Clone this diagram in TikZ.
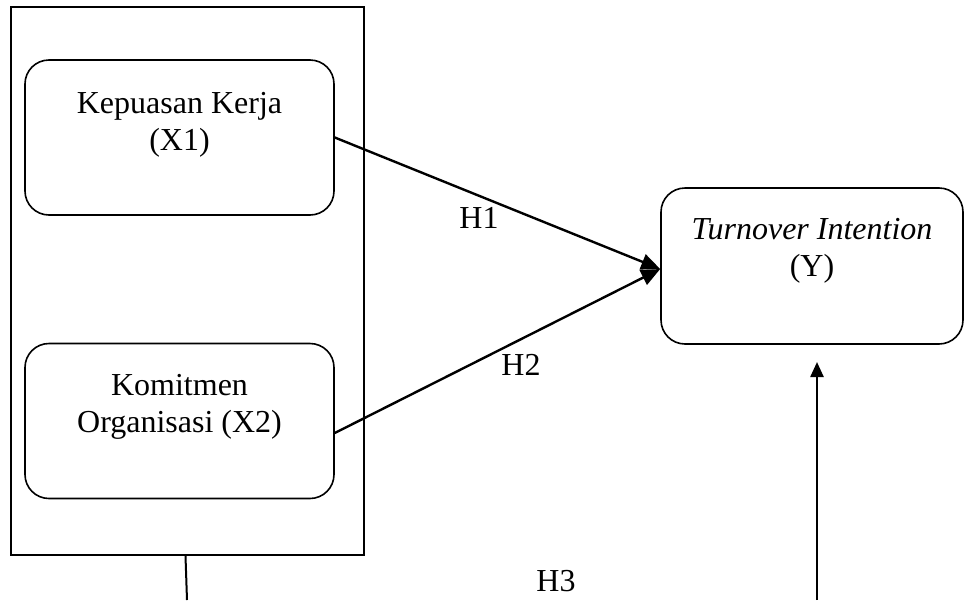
\documentclass[tikz,border=0pt]{standalone}
\usepackage{fontspec}
\setmainfont{Liberation Serif}
\usetikzlibrary{positioning}
\usetikzlibrary{arrows.meta}

\begin{document}
\begin{tikzpicture}[x=1pt,y=-1pt]
  \tikzstyle{var}=[draw, rounded corners=24pt, line width=1.6pt, minimum width=309pt, minimum height=155pt] % variable boxes
  \tikzstyle{lbl}=[font=\fontsize{32}{37}\selectfont, align=center, inner sep=0pt] % all texts
  \tikzstyle{hyp}=[line width=2.4pt, -{Triangle[length=19pt,width=16pt]}] % hypothesis arrows
  \useasboundingbox (0,0) rectangle (964,600);
  \node[draw, line width=2pt, minimum width=353pt, minimum height=548pt] (grp) at (187.5,281) {};
  \node[var] (x1) at (179.5,137.5) {};
  \node[var] (x2) at (179.5,421) {};
  \node[var, minimum width=302pt, minimum height=156pt] (y) at (812,266) {};
  \node[lbl, below=33pt of x1.north] (t1) {Kepuasan Kerja\\(X1)};
  \node[lbl, below=31pt of x2.north] (t2) {Komitmen\\Organisasi (X2)};
  \node[lbl, below=31pt of y.north] (ty) {\textit{Turnover Intention}\\(Y)};
  \node[lbl] (h1) at (479,218) {H1};
  \node[lbl] (h2) at (521,365) {H2};
  \node[lbl] (h3) at (556,581) {H3};
  \coordinate (lend) at (187,600);
  \coordinate (rend) at (817,600);
  \coordinate (rtip) at (817,362);
  \draw[hyp] (x1.east) -- ([yshift=-3pt]y.west);
  \draw[hyp] ([yshift=-12pt]x2.east) -- ([yshift=-3pt]y.west);
  \draw[line width=2pt] ([xshift=-2pt]grp.south) -- (lend);
  \draw[line width=2.4pt, -{Triangle[length=15pt,width=13pt]}] (rend) -- (rtip);
\end{tikzpicture}
\end{document}
